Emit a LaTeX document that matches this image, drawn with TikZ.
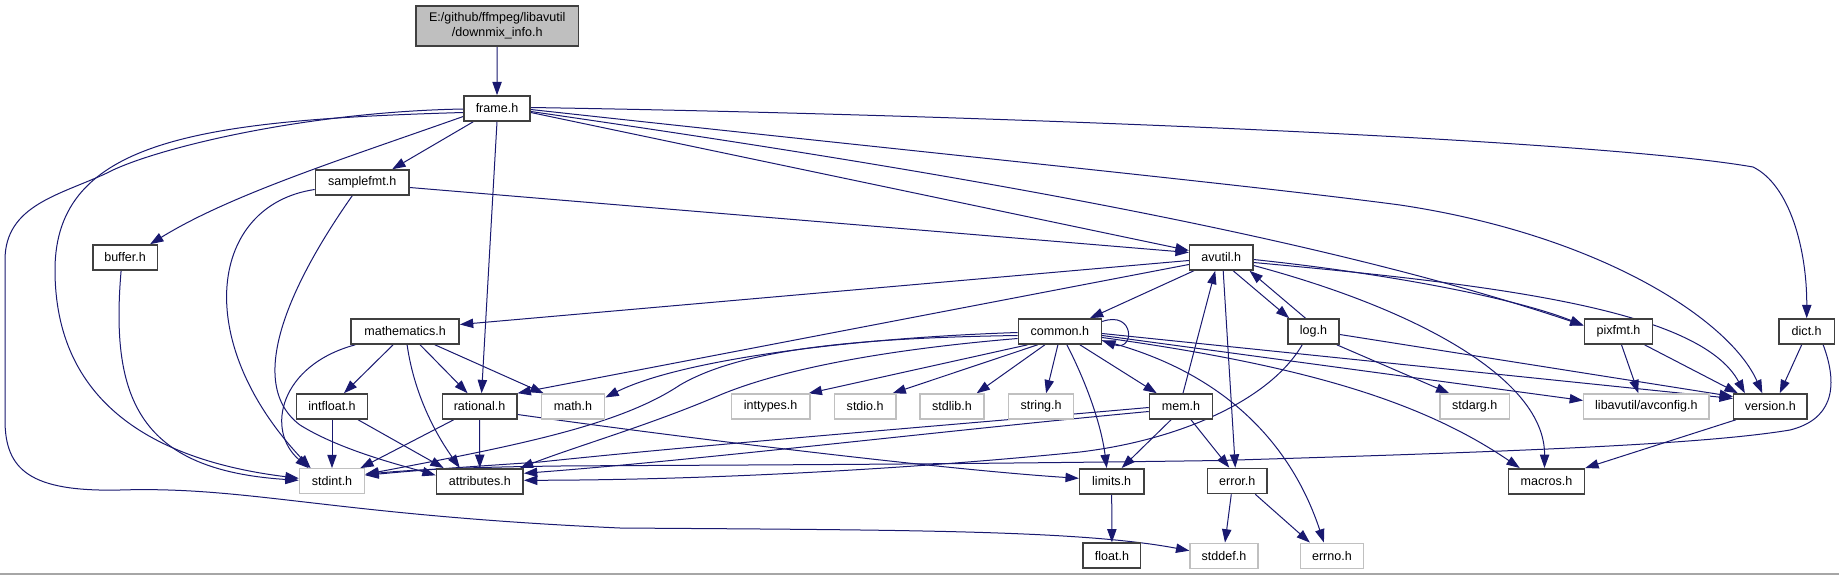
\documentclass[tikz,border=0pt]{standalone}
\usepackage{fontspec}
\setmainfont{Liberation Sans}
\usetikzlibrary{arrows.meta,calc,backgrounds}
\definecolor{edgec}{HTML}{191970}
\definecolor{gfill}{HTML}{BFBFBF}
\definecolor{gline}{HTML}{C0C0C0}
\definecolor{bline}{HTML}{404040}
\begin{document}
\begin{tikzpicture}[x=0.75pt,y=-0.75pt,
 box/.style={draw=bline, line width=1.2pt, fill=white, minimum height=18.75pt, inner sep=0pt, font=\fontsize{9.4}{11}\selectfont},
 gbox/.style={box, draw=gline, line width=1pt},
 edge/.style={draw=edgec, line width=0.75pt, -{Triangle[length=10pt,width=7pt]}},
]
\useasboundingbox (0,0) rectangle (1839,575);
% nodes
\node[box, minimum width=121.9pt, minimum height=30pt, fill=gfill, align=center] (downmix) at (497.2,26) {E:/github/ffmpeg/libavutil\\/downmix\_info.h};
\node[box, minimum width=49.5pt] (frame) at (497,108.5) {frame.h};
\node[box, minimum width=70.1pt] (samplefmt) at (362.2,182.5) {samplefmt.h};
\node[box, minimum width=48.3pt] (buffer) at (125.1,257.5) {buffer.h};
\node[box, minimum width=47.4pt] (avutil) at (1221.2,257.5) {avutil.h};
\node[box, minimum width=81pt] (mathematics) at (405.1,331.5) {mathematics.h};
\node[box, minimum width=62.25pt] (common) at (1059.9,331.5) {common.h};
\node[box, minimum width=38.25pt] (log) at (1313.5,331.5) {log.h};
\node[box, minimum width=51.2pt] (pixfmt) at (1618.5,331.5) {pixfmt.h};
\node[box, minimum width=41.5pt] (dict) at (1806.7,331.5) {dict.h};
\node[box, minimum width=53pt] (intfloat) at (332,406.5) {intfloat.h};
\node[box, minimum width=55.7pt] (rational) at (479.6,406.5) {rational.h};
\node[gbox, minimum width=47.5pt] (math) at (573,406.5) {math.h};
\node[gbox, minimum width=59pt] (inttypes) at (770.6,406.5) {inttypes.h};
\node[gbox, minimum width=46pt] (stdio) at (865.2,406.5) {stdio.h};
\node[gbox, minimum width=48pt] (stdlib) at (951.9,406.5) {stdlib.h};
\node[gbox, minimum width=48.9pt] (string) at (1041.1,406.5) {string.h};
\node[box, minimum width=47.2pt] (mem) at (1181,406.5) {mem.h};
\node[gbox, minimum width=52pt] (stdarg) at (1474.7,406.5) {stdarg.h};
\node[gbox, minimum width=94.1pt] (avconfig) at (1646.4,406.5) {libavutil/avconfig.h};
\node[box, minimum width=55pt] (version) at (1770.3,406.5) {version.h};
\node[gbox, minimum width=49pt] (stdint) at (332,481.3) {stdint.h};
\node[box, minimum width=65pt] (attributes) at (479.8,481.3) {attributes.h};
\node[box, minimum width=48.1pt] (limits) at (1111.7,481.3) {limits.h};
\node[box, minimum width=44.5pt] (error) at (1237.3,481) {error.h};
\node[box, minimum width=56.9pt] (macros) at (1546.5,481.3) {macros.h};
\node[box, minimum width=43pt] (float) at (1111.9,555.7) {float.h};
\node[gbox, minimum width=51pt] (stddef) at (1224,555.7) {stddef.h};
\node[gbox, minimum width=47.1pt] (errno) at (1331.9,555.7) {errno.h};

\begin{pgfonlayer}{background}
\fill[white] (0,0) rectangle (1839,575);
\draw[color=black!35, line width=1pt] (0,574) -- (1839,574);
% downmix
\draw[edge] (downmix.south) -- (frame.north);
% frame
\draw[edge] ($(frame.south west)+(10,0)$) -- ($(samplefmt.north)+(30,0)$);
\draw[edge] ($(frame.west)+(0,8)$) .. controls (340,160) and (230,195) .. ($(buffer.north east)+(-8,0)$);
\draw[edge] ($(frame.west)+(0,4)$) .. controls (200,120) and (55,140) .. (55,270) .. controls (55,400) and (150,460) .. ($(stdint.west)+(0,-3)$);
\draw[edge] ($(frame.west)+(0,0.5)$) .. controls (300,112) and (150,150) .. (107,173) .. controls (60,195) and (5,205) .. (5,260) -- (5,420) .. controls (5,470) and (30,492) .. (120,490) .. controls (250,486) and (330,515) .. (620,528) .. controls (900,530) and (1080,530) .. ($(stddef.west)+(0,-5)$);
\draw[edge] (frame.south) -- ($(rational.north)+(2,0)$);
\draw[edge] ($(frame.east)+(0,4)$) -- ($(avutil.west)+(0,-7)$);
\draw[edge] ($(frame.east)+(0,3)$) .. controls (900,165) and (1300,230) .. ($(pixfmt.west)+(0,-6)$);
\draw[edge] ($(frame.east)+(0,1)$) .. controls (900,150) and (1250,185) .. (1400,205) .. controls (1600,235) and (1730,320) .. ($(version.north)+(-8,0)$);
\draw[edge] ($(frame.east)+(0,-1)$) .. controls (1000,115) and (1600,140) .. (1753,167) .. controls (1790,185) and (1807,250) .. (dict.north);
% samplefmt
\draw[edge] ($(samplefmt.east)+(0,5)$) -- ($(avutil.west)+(0,-5)$);
\draw[edge] ($(samplefmt.west)+(0,7)$) .. controls (210,205) and (190,340) .. ($(stdint.north west)+(12,0)$);
\draw[edge] ($(samplefmt.south)+(-10,0)$) .. controls (300,270) and (240,380) .. (300,425) .. controls (340,450) and (400,465) .. ($(attributes.west)+(0,-6)$);
% buffer
\draw[edge] ($(buffer.south)+(-4,0)$) .. controls (110,400) and (140,470) .. ($(stdint.west)+(0,-1)$);
% avutil
\draw[edge] ($(avutil.west)+(0,3)$) -- ($(mathematics.east)+(0,-7)$);
\draw[edge] ($(avutil.west)+(0,7)$) -- (rational.north east);
\draw[edge] ($(avutil.south west)+(5,0)$) -- ($(common.north)+(30,0)$);
\draw[edge] ($(avutil.south)+(12,0)$) -- ($(log.north west)+(2,0)$);
\draw[edge] ($(log.north)+(-8,0)$) -- ($(avutil.south east)+(-4,0)$);
\draw[edge] ($(avutil.south)+(2,0)$) -- ($(error.north)+(-2,0)$);
\draw[edge] ($(avutil.east)+(0,2)$) .. controls (1400,275) and (1520,300) .. ($(pixfmt.west)+(0,-6)$);
\draw[edge] ($(avutil.east)+(0,5)$) .. controls (1500,285) and (1700,310) .. ($(version.north west)+(12,0)$);
\draw[edge] ($(avutil.east)+(0,8)$) .. controls (1420,310) and (1545,380) .. ($(macros.north)+(-2,0)$);
\draw[edge] ($(mem.north)+(2,0)$) -- ($(avutil.south)+(-6,0)$);
% common
\draw[edge] ($(common.east)+(0,-10)$) .. controls (1135,310) and (1135,352) .. ($(common.east)+(0,9)$);
\draw[edge] ($(common.west)+(0,1)$) .. controls (850,338) and (680,360) .. ($(math.east)+(0,-9)$);
\draw[edge] ($(common.west)+(0,4)$) .. controls (850,338) and (740,350) .. (680,385) .. controls (620,425) and (520,445) .. ($(stdint.east)+(0,-7)$);
\draw[edge] ($(common.west)+(0,7)$) .. controls (880,350) and (780,370) .. (720,395) .. controls (650,425) and (580,445) .. ($(attributes.north east)+(-4,0)$);
\draw[edge] ($(common.south west)+(10,0)$) -- ($(inttypes.north east)+(-2,0)$);
\draw[edge] ($(common.south west)+(20,0)$) -- ($(stdio.north east)+(-4,0)$);
\draw[edge] ($(common.south)+(-15,0)$) -- ($(stdlib.north east)+(-8,0)$);
\draw[edge] ($(common.south)+(-2,0)$) -- ($(string.north)+(5,0)$);
\draw[edge] ($(common.south)+(7,0)$) .. controls (1090,390) and (1102,430) .. ($(limits.north)+(-5,0)$);
\draw[edge] ($(common.south)+(20,0)$) -- ($(mem.north west)+(8,0)$);
\draw[edge] ($(common.east)+(0,9)$) .. controls (1220,370) and (1290,440) .. ($(errno.north)+(-8,0)$);
\draw[edge] ($(common.east)+(0,2)$) -- ($(version.west)+(0,-8)$);
\draw[edge] ($(common.east)+(0,4)$) -- ($(avconfig.west)+(0,-6)$);
\draw[edge] ($(common.east)+(0,6)$) .. controls (1300,365) and (1420,400) .. ($(macros.north west)+(12,0)$);
% log
\draw[edge] ($(log.south east)+(-3,0)$) -- ($(stdarg.north west)+(10,0)$);
\draw[edge] ($(log.east)+(0,3)$) -- ($(version.west)+(0,-10)$);
\draw[edge] ($(log.south west)+(15,0)$) .. controls (1270,400) and (1180,440) .. (1080,452) .. controls (900,470) and (700,480) .. ($(attributes.east)+(0,-1)$);
% mem
\draw[edge] ($(mem.west)+(0,1)$) .. controls (950,425) and (700,445) .. (540,462) .. controls (480,466) and (420,470) .. ($(stdint.east)+(0,-6)$);
\draw[edge] ($(mem.west)+(0,5)$) .. controls (950,430) and (700,460) .. ($(attributes.east)+(0,-8)$);
\draw[edge] ($(mem.south)+(-10,0)$) -- ($(limits.north)+(10,0)$);
\draw[edge] ($(mem.south)+(10,0)$) -- ($(error.north)+(-8,0)$);
% dict
\draw[edge] ($(dict.south east)+(-12,0)$) .. controls (1840,390) and (1830,420) .. (1790,430) .. controls (1700,445) and (1500,452) .. (1220,460.5) .. controls (900,465) and (700,465) .. (560,466) .. controls (480,467) and (420,469) .. ($(stdint.east)+(0,-7)$);
\draw[edge] ($(dict.south)+(-5,0)$) -- ($(version.north east)+(-28,0)$);
% pixfmt
\draw[edge] ($(pixfmt.south)+(3,0)$) -- ($(avconfig.north)+(-8,0)$);
\draw[edge] ($(pixfmt.south)+(26,0)$) -- ($(version.north west)+(5,0)$);
% version
\draw[edge] ($(version.south west)+(3,0)$) -- (macros.north east);
% mathematics
\draw[edge] ($(mathematics.south)+(-12,0)$) -- ($(intfloat.north)+(12,0)$);
\draw[edge] ($(mathematics.south)+(15,0)$) -- ($(rational.north)+(-12,0)$);
\draw[edge] ($(mathematics.south east)+(-25,0)$) -- ($(math.north west)+(3,0)$);
\draw[edge] ($(mathematics.south)+(2,0)$) .. controls (415,400) and (440,440) .. ($(attributes.north)+(-20,0)$);
\draw[edge] ($(mathematics.south west)+(5,0)$) .. controls (280,365) and (265,430) .. ($(stdint.north west)+(10,0)$);
% intfloat
\draw[edge] (intfloat.south) -- (stdint.north);
\draw[edge] ($(intfloat.south east)+(-10,0)$) -- ($(attributes.north west)+(8,0)$);
% rational
\draw[edge] ($(rational.south west)+(12,0)$) -- ($(stdint.north east)+(-5,0)$);
\draw[edge] (rational.south) -- (attributes.north);
\draw[edge] ($(rational.east)+(0,8)$) .. controls (700,440) and (950,470) .. ($(limits.west)+(0,-3)$);
% others
\draw[edge] (limits.south) -- (float.north);
\draw[edge] ($(error.south)+(-6,0)$) -- ($(stddef.north)+(1,0)$);
\draw[edge] ($(error.south)+(18,0)$) -- ($(errno.north west)+(10,0)$);
\end{pgfonlayer}
\end{tikzpicture}
\end{document}
